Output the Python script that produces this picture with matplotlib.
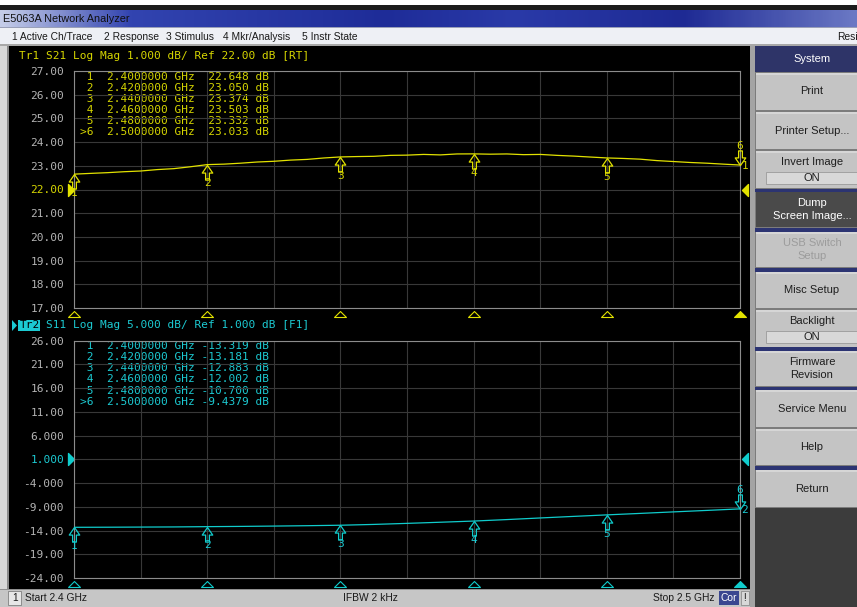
import matplotlib
matplotlib.use("Agg")
import matplotlib.pyplot as plt
import numpy as np
from matplotlib.path import Path
from matplotlib.patches import Rectangle, Polygon
from matplotlib.colors import LinearSegmentedColormap
from matplotlib.ticker import MultipleLocator

W, H = 857, 607

# ---------------- measurement data ----------------
s21_freq_ghz = [2.4000, 2.4025, 2.4050, 2.4075, 2.4100, 2.4125, 2.4150, 2.4175,
                2.4200, 2.4225, 2.4250, 2.4275, 2.4300, 2.4325, 2.4350, 2.4375,
                2.4400, 2.4425, 2.4450, 2.4475, 2.4500, 2.4525, 2.4550, 2.4575,
                2.4600, 2.4625, 2.4650, 2.4675, 2.4700, 2.4725, 2.4750, 2.4775,
                2.4800, 2.4825, 2.4850, 2.4875, 2.4900, 2.4925, 2.4950, 2.4975,
                2.5000]
s21_db = [22.648, 22.68, 22.71, 22.75, 22.78, 22.84, 22.88, 22.96,
          23.050, 23.07, 23.11, 23.16, 23.19, 23.24, 23.27, 23.33,
          23.374, 23.39, 23.40, 23.44, 23.45, 23.48, 23.46, 23.50,
          23.503, 23.49, 23.50, 23.47, 23.48, 23.44, 23.41, 23.37,
          23.332, 23.31, 23.28, 23.22, 23.18, 23.14, 23.11, 23.07,
          23.033]

s11_freq_ghz = [2.400, 2.405, 2.410, 2.415, 2.420, 2.425, 2.430, 2.435,
                2.440, 2.445, 2.450, 2.455, 2.460, 2.465, 2.470, 2.475,
                2.480, 2.485, 2.490, 2.495, 2.500]
s11_db = [-13.319, -13.30, -13.27, -13.24, -13.181, -13.13, -13.06, -12.98,
          -12.883, -12.71, -12.49, -12.25, -12.002, -11.69, -11.35, -11.02,
          -10.700, -10.39, -10.07, -9.76, -9.4379]

marker_freq_ghz = [2.40, 2.42, 2.44, 2.46, 2.48, 2.50]
s21_marker_db = [22.648, 23.050, 23.374, 23.503, 23.332, 23.033]
s21_marker_txt = ["22.648", "23.050", "23.374", "23.503", "23.332", "23.033"]
s11_marker_db = [-13.319, -13.181, -12.883, -12.002, -10.700, -9.4379]
s11_marker_txt = ["-13.319", "-13.181", "-12.883", "-12.002", "-10.700", "-9.4379"]

s21_ticks = [17, 18, 19, 20, 21, 22, 23, 24, 25, 26, 27]
s21_ticklabels = ["17.00", "18.00", "19.00", "20.00", "21.00", "22.00",
                  "23.00", "24.00", "25.00", "26.00", "27.00"]
s11_ticks = [-24, -19, -14, -9, -4, 1, 6, 11, 16, 21, 26]
s11_ticklabels = ["-24.00", "-19.00", "-14.00", "-9.000", "-4.000", "1.000",
                  "6.000", "11.00", "16.00", "21.00", "26.00"]

s21_header = "Tr1 S21 Log Mag 1.000 dB/ Ref 22.00 dB [RT]"
s11_header = "Tr2 S11 Log Mag 5.000 dB/ Ref 1.000 dB [F1]"
s21_ref, s11_ref = 22.0, 1.0

menu_items = ["1 Active Ch/Trace", "2 Response", "3 Stimulus",
              "4 Mkr/Analysis", "5 Instr State"]
menu_x = [12, 104, 166, 223, 302]

YELLOW = "#d6d600"
YLINE = "#e2e200"
CYAN = "#1ccad2"
CLINE = "#10cccc"
GRID = "#383838"
FRAME = "#8c8c8c"
TICKGRAY = "#b4b4b4"
MONO = "DejaVu Sans Mono"
UI = "Liberation Sans"
CHAR_W = 6.67  # advance of one monospace character in pixels

fig = plt.figure(figsize=(W / 100, H / 100), dpi=100)
bg = fig.add_axes([0, 0, 1, 1])
bg.set_xlim(0, W)
bg.set_ylim(H, 0)
bg.axis("off")


def rect(x0, y0, x1, y1, fc, ec="none", lw=0.0, z=1):
    bg.add_patch(Rectangle((x0, y0), x1 - x0, y1 - y0, facecolor=fc,
                           edgecolor=ec, linewidth=lw, zorder=z))


# window chrome
rect(0, 0, W, H, "#d4d4d4", z=0)
rect(0, 0, W, 5, "#ffffff")
rect(0, 5, W, 10, "#1c1c1c")
title_cmap = LinearSegmentedColormap.from_list(
    "title", [(0, "#c4cce8"), (0.15, "#3244b0"), (0.45, "#1e2c98"),
              (0.6, "#2a3aa8"), (0.8, "#1e2a94"), (1, "#6a78c4")])
grad = np.linspace(0, 1, 300)[None, :]
bg.imshow(grad, cmap=title_cmap, extent=(0, W, 27, 10), aspect="auto", zorder=1)
bg.text(3, 18.5, "E5063A Network Analyzer", family=UI, fontsize=7.8,
        color="#101010", va="center", ha="left", zorder=3)
rect(0, 27, W, 45, "#eef0f5")
rect(0, 27, W, 28, "#9aa0b8")
rect(0, 44, W, 46, "#a8a8a8")
for label, x in zip(menu_items, menu_x):
    bg.text(x, 36.8, label, family=UI, fontsize=7.4, color="#1a1a1a",
            va="center", ha="left", zorder=3)
bg.text(837, 36.8, "Resi", family=UI, fontsize=7.4, color="#1a1a1a",
        va="center", ha="left", zorder=3, clip_on=True)

# measurement screen
rect(0, 46, 9, 589, "#d8d8d8")
rect(7, 46, 9, 589, "#8a8a8a")
rect(9, 46, 750, 589, "#000000")
rect(750, 46, 755, 607, "#a4a4a4")
rect(755, 46, W, H, "#3c3c3c")

# status bar
rect(0, 589, 750, H, "#c6c6c6")
rect(0, 589, 750, 590, "#909090")
rect(8, 591, 21, 605, "#e6e6e6", ec="#808080", lw=0.6)
bg.text(12.5, 598, "1", family=UI, fontsize=7.4, color="#1a1a1a", va="center", zorder=3)
bg.text(25, 598, "Start 2.4 GHz", family=UI, fontsize=7.4, color="#1a1a1a", va="center", zorder=3)
bg.text(343, 598, "IFBW 2 kHz", family=UI, fontsize=7.4, color="#1a1a1a", va="center", zorder=3)
bg.text(653, 598, "Stop 2.5 GHz", family=UI, fontsize=7.4, color="#1a1a1a", va="center", zorder=3)
rect(719, 591, 739, 605, "#3a4690", z=2)
bg.text(729, 598, "Cor", family=UI, fontsize=7.4, color="#ffffff", va="center", ha="center", zorder=3)
rect(741, 591, 749, 605, "#d8d8d8", ec="#808080", lw=0.5, z=2)
bg.text(745, 598, "!", family=UI, fontsize=7.4, color="#1a1a1a", va="center", ha="center", zorder=3)

# soft-key panel
softkeys = [
    ("System", 46, 72, "header"),
    ("Print", 73, 110, "normal"),
    ("Printer Setup...", 112, 149, "normal"),
    ("Invert Image", 151, 188, "toggle"),
    ("Dump\nScreen Image...", 192, 227, "active"),
    ("USB Switch\nSetup", 232, 267, "disabled"),
    ("Misc Setup", 272, 308, "normal"),
    ("Backlight", 310, 347, "toggle"),
    ("Firmware\nRevision", 351, 386, "normal"),
    ("Service Menu", 390, 427, "normal"),
    ("Help", 429, 465, "normal"),
    ("Return", 470, 507, "normal"),
]
separators = [(188.5, 192), (227.5, 231.5), (267.5, 271.5), (347, 350.5),
              (386.5, 390), (465.5, 469.5)]
rect(755, 46, W, 508, "#7c7c7c", z=1)
for y0, y1 in separators:
    rect(755, y0, W, y1, "#2c3472", z=2)
KX = 812
KFS = 8.0
for label, y0, y1, kind in softkeys:
    if kind == "header":
        rect(755, y0, W, y1, "#2e3468", z=2)
        bg.text(KX, (y0 + y1) / 2, label, family=UI, fontsize=KFS, color="#ffffff",
                ha="center", va="center", zorder=3)
        continue
    fc = "#4a4a4a" if kind == "active" else "#c4c4c4"
    rect(756, y0, W, y1, fc, z=2)
    if kind != "active":
        rect(756, y0, W, y0 + 1.5, "#d6d6d6", z=2)
    tc = {"active": "#ffffff", "disabled": "#9c9c9c"}.get(kind, "#1e1e1e")
    if kind == "toggle":
        bg.text(KX, y0 + 11, label, family=UI, fontsize=KFS, color=tc,
                ha="center", va="center", zorder=3)
        rect(766, y0 + 20.5, W, y0 + 33, "#d8d8d8", ec="#9a9a9a", lw=0.6, z=2)
        bg.text(KX, y0 + 27, "ON", family=UI, fontsize=KFS, color=tc,
                ha="center", va="center", zorder=3)
    else:
        bg.text(KX, (y0 + y1) / 2, label, family=UI, fontsize=KFS, color=tc,
                ha="center", va="center", linespacing=1.4, zorder=3)

# ---------------- trace plots ----------------
up_arrow = Path([(0, 0), (-0.36, -0.52), (-0.13, -0.52), (-0.13, -1), (0.13, -1),
                 (0.13, -0.52), (0.36, -0.52), (0, 0)],
                [Path.MOVETO] + [Path.LINETO] * 6 + [Path.CLOSEPOLY])
down_arrow = Path([(x, -y) for x, y in up_arrow.vertices], up_arrow.codes)
stim_tri = Path([(-1, 0), (1, 0), (0, 1), (-1, 0)],
                [Path.MOVETO, Path.LINETO, Path.LINETO, Path.CLOSEPOLY])
ref_right = Path([(0, 0), (-1, 1), (-1, -1), (0, 0)],
                 [Path.MOVETO, Path.LINETO, Path.LINETO, Path.CLOSEPOLY])
ref_left = Path([(0, 0), (1, 1), (1, -1), (0, 0)],
                [Path.MOVETO, Path.LINETO, Path.LINETO, Path.CLOSEPOLY])


def trace_axes(top_px, bottom_px):
    return fig.add_axes([74 / W, 1 - bottom_px / H, (740 - 74) / W,
                         (bottom_px - top_px) / H])


def draw_trace(ax, f, v, mvals, ticks, ticklabels, ref, lcolor, tcolor, tracenum):
    ax.set_facecolor("none")
    ax.set_xlim(2.4, 2.5)
    ax.set_ylim(ticks[0], ticks[-1])
    ax.xaxis.set_major_locator(MultipleLocator(0.01))
    ax.set_yticks(ticks)
    ax.set_yticklabels(ticklabels, family=MONO, fontsize=8)
    for lab, t in zip(ax.get_yticklabels(), ticks):
        lab.set_color(tcolor if t == ref else TICKGRAY)
    ax.tick_params(axis="x", length=0, labelbottom=False)
    ax.tick_params(axis="y", length=0, pad=7.2)
    ax.grid(True, color=GRID, linewidth=0.8)
    ax.set_axisbelow(True)
    for sp in ax.spines.values():
        sp.set_color(FRAME)
        sp.set_linewidth(0.8)
    ax.plot(f, v, color=lcolor, linewidth=0.9, zorder=3)

    # markers 1-5 below the trace, active marker 6 above it
    mf = marker_freq_ghz
    ax.plot(mf[:5], mvals[:5], ls="none", marker=up_arrow, ms=21, mfc="none",
            mec=lcolor, mew=0.9, clip_on=False, zorder=4)
    ax.plot(mf[5:], mvals[5:], ls="none", marker=down_arrow, ms=21, mfc="none",
            mec=lcolor, mew=0.9, clip_on=False, zorder=4)
    for i in range(5):
        ax.annotate(str(i + 1), (mf[i], mvals[i]), xytext=(0, -13.5),
                    textcoords="offset points", ha="center", va="center",
                    family=MONO, fontsize=8, color=tcolor, annotation_clip=False)
    ax.annotate("6", (mf[5], mvals[5]), xytext=(0, 13.5), textcoords="offset points",
                ha="center", va="center", family=MONO, fontsize=8, color=tcolor,
                annotation_clip=False)
    ax.annotate(tracenum, (mf[5], mvals[5]), xytext=(1.0, -0.5), textcoords="offset points",
                ha="left", va="center", family=MONO, fontsize=8, color=tcolor,
                annotation_clip=False)

    # stimulus markers along the bottom edge
    xt = ax.get_xaxis_transform()
    below = -8.5 / 237
    ax.plot(mf[:5], [below] * 5, ls="none", marker=stim_tri, ms=8.6, mfc="none",
            mec=lcolor, mew=0.8, transform=xt, clip_on=False)
    ax.plot(mf[5:], [below], ls="none", marker=stim_tri, ms=8.6, mfc=lcolor,
            mec=lcolor, mew=0.8, transform=xt, clip_on=False)

    # reference level pointers
    yt = ax.get_yaxis_transform()
    ax.plot([0], [ref], ls="none", marker=ref_right, ms=8.6, mfc=lcolor, mec=lcolor,
            transform=yt, clip_on=False)
    ax.plot([1 + 2 / 666], [ref], ls="none", marker=ref_left, ms=8.6, mfc=lcolor,
            mec=lcolor, transform=yt, clip_on=False)


ax1 = trace_axes(71, 308)
draw_trace(ax1, s21_freq_ghz, s21_db, s21_marker_db, s21_ticks, s21_ticklabels,
           s21_ref, YLINE, YELLOW, "1")
ax2 = trace_axes(340.7, 578)
draw_trace(ax2, s11_freq_ghz, s11_db, s11_marker_db, s11_ticks, s11_ticklabels,
           s11_ref, CLINE, CYAN, "2")

# trace headers
HX = 19.3
bg.text(HX, 56, s21_header, family=MONO, fontsize=8, color=YELLOW,
        va="center", ha="left", zorder=3)
bg.add_patch(Polygon([(12, 320), (12, 331), (17, 325.5)], closed=True,
                     facecolor=CYAN, edgecolor="none", zorder=3))
rect(18.5, 320, 40, 331, CYAN, z=2)
bg.text(HX, 325.5, s11_header[:3], family=MONO, fontsize=8, color="#000000",
        va="center", ha="left", zorder=3)
bg.text(HX + 4 * CHAR_W, 325.5, s11_header[4:], family=MONO, fontsize=8, color=CYAN,
        va="center", ha="left", zorder=3)


# marker readout tables
def table(y_lines, values, color):
    for i, (y, val) in enumerate(zip(y_lines, values)):
        prefix = ">" if i == 5 else " "
        line = f"{prefix}{i + 1}  {marker_freq_ghz[i]:.7f} GHz {val:>7} dB"
        bg.text(80, y, line, family=MONO, fontsize=8, color=color,
                va="center", ha="left", zorder=3)


table([77.3, 88.3, 99.0, 110.0, 120.7, 131.7], s21_marker_txt, YELLOW)
table([346.0, 357.3, 368.3, 379.3, 390.7, 401.7], s11_marker_txt, CYAN)

fig.savefig("out.png", dpi=100)
